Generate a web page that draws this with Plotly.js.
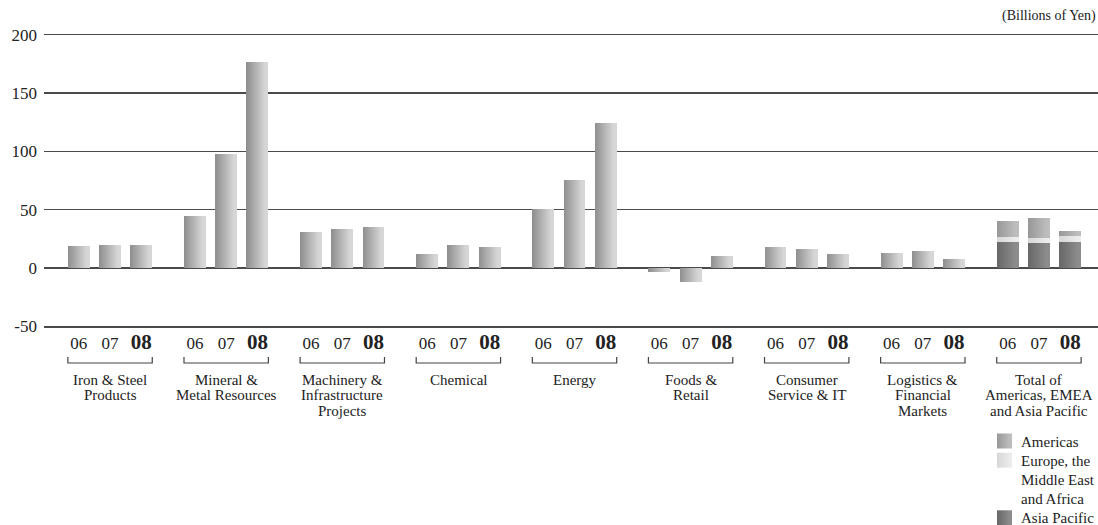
<!DOCTYPE html>
<html><head><meta charset="utf-8">
<script src="https://cdn.plot.ly/plotly-3.0.1.min.js"></script>
<style>html,body{margin:0;padding:0;background:#fff}</style>
</head><body>
<div id="chart" style="width:1098px;height:525px"></div>
<script>
// ---- data ----
const segmentLabels = [
  "Iron & Steel\nProducts",
  "Mineral &\nMetal Resources",
  "Machinery &\nInfrastructure\nProjects",
  "Chemical",
  "Energy",
  "Foods &\nRetail",
  "Consumer\nService & IT",
  "Logistics &\nFinancial\nMarkets",
  "Total of\nAmericas, EMEA\nand Asia Pacific"
];
const years = ["06", "07", "08"];
const ironSteel    = [19, 20, 20];
const mineralMetal = [44.5, 98, 177];
const machinery    = [30.5, 33.5, 35];
const chemical     = [12, 19.5, 18];
const energy       = [50.5, 75.5, 124];
const foodsRetail  = [-3.5, -12.5, 10.5];
const consumerIT   = [17.5, 16.5, 12];
const logistics    = [13, 14.5, 7.5];
const totalAmericas    = [13.5, 17, 4.5];
const totalEMEA        = [4, 4.5, 4.5];
const totalAsiaPacific = [22.5, 21.5, 22.5];
const seriesNames = ["Americas", "Europe, the\nMiddle East\nand Africa", "Asia Pacific"];
const unitLabel = "(Billions of Yen)";
const yTicks = [-50, 0, 50, 100, 150, 200];
const yTickText = ["-50", "0", "50", "100", "150", "200"];

// ---- styling / layout helpers ----
const segmentValues = [ironSteel, mineralMetal, machinery, chemical, energy, foodsRetail, consumerIT, logistics];
const seriesValues = [totalAmericas, totalEMEA, totalAsiaPacific];
const seriesColors = ["#a8a8a8", "#dedede", "#767676"];
const seriesGrad = [["#979797", "#bdbdbd"], ["#d6d6d6", "#ececec"], ["#676767", "#8c8c8c"]];
const mainGrad = ["#8e8e8e", "#d6d6d6"];
const GROUP_STEP = 3.715;
const pos = (g, i) => g * GROUP_STEP + i;
const FONT = "Liberation Serif, Times New Roman, serif";
const W = 1098, H = 525, ML = 44;
const PLOT_TOP = 35, PLOT_BOTTOM = 326, PLOT_H = PLOT_BOTTOM - PLOT_TOP, PLOT_W = W - ML;
const py = p => (PLOT_BOTTOM - p) / PLOT_H;
const px = p => (p - ML) / PLOT_W;

const mainX = [], mainY = [];
segmentValues.forEach((vals, g) => vals.forEach((v, i) => { mainX.push(pos(g, i)); mainY.push(v); }));
const totalG = segmentLabels.length - 1;
const totalX = years.map((y, i) => pos(totalG, i));

// stacked bottom-to-top: Asia Pacific, EMEA, Americas
const stackOrder = [2, 1, 0];
const traces = [
  {type: "bar", x: mainX, y: mainY, marker: {color: "#b0b0b0", line: {width: 0}}, showlegend: false, hoverinfo: "y"}
].concat(stackOrder.map(s => ({
  type: "bar", x: totalX, y: seriesValues[s], name: seriesNames[s].replace(/\n/g, " "),
  marker: {color: seriesColors[s], line: {width: 0}}, showlegend: false
})));
const traceGrads = [mainGrad].concat(stackOrder.map(s => seriesGrad[s]));

const tickvals = [], ticktext = [];
segmentLabels.forEach((s, g) => years.forEach((y, i) => {
  tickvals.push(pos(g, i));
  ticktext.push(i === 2 ? '<span style="font-size:21px"><b>' + y + '</b></span>' : y);
}));

const shapes = [], annotations = [];
segmentLabels.forEach((label, g) => {
  const x0 = pos(g, 0) - 0.35, x1 = pos(g, 2) + 0.35;
  const yt = py(357), yb = py(363);
  shapes.push({type: "path", xref: "x", yref: "paper",
    path: `M ${x0},${yt} L ${x0},${yb} L ${x1},${yb} L ${x1},${yt}`,
    line: {color: "#444", width: 1.2}});
  label.split("\n").forEach((line, k) => {
    annotations.push({xref: "x", yref: "paper", x: pos(g, 1), y: py(380 + 15.3 * k),
      text: line, showarrow: false, xanchor: "center", yanchor: "middle",
      font: {family: FONT, size: 15, color: "#222"}});
  });
});
annotations.push({xref: "paper", yref: "paper", x: 1, y: py(16), text: unitLabel, showarrow: false,
  xanchor: "right", yanchor: "middle", font: {family: FONT, size: 14, color: "#222"}});

// legend (drawn as key squares + text lines)
const legendShapeIdx = [];
let lineY = 441.5;
seriesNames.forEach((name, s) => {
  legendShapeIdx.push({idx: shapes.length, grad: seriesGrad[s]});
  shapes.push({type: "rect", xref: "paper", yref: "paper",
    x0: px(997), x1: px(1012), y0: py(lineY - 8), y1: py(lineY + 7),
    fillcolor: seriesColors[s], line: {width: 0}});
  name.split("\n").forEach(line => {
    annotations.push({xref: "paper", yref: "paper", x: px(1019), y: py(lineY), text: line,
      showarrow: false, xanchor: "left", yanchor: "middle",
      font: {family: FONT, size: 15, color: "#222"}});
    lineY += 19.2;
  });
});

const layout = {
  width: W, height: H,
  margin: {l: ML, r: 0, t: PLOT_TOP, b: H - PLOT_BOTTOM, pad: 0, autoexpand: false},
  paper_bgcolor: "#fff", plot_bgcolor: "#fff",
  font: {family: FONT, color: "#222"},
  barmode: "stack", bargap: 0.3, showlegend: false,
  xaxis: {range: [-1.114, 32.61], tickmode: "array", tickvals, ticktext, automargin: false,
    tickfont: {family: FONT, size: 17, color: "#222"}, ticks: "", ticklabelstandoff: 1,
    showgrid: false, zeroline: false, showline: true, mirror: true, linecolor: "#4a4a4a", linewidth: 1.5},
  yaxis: {range: [-50, 200], tickmode: "array", tickvals: yTicks, ticktext: yTickText, automargin: false,
    tickfont: {family: FONT, size: 17, color: "#222"}, ticks: "", ticklabelstandoff: 6,
    showgrid: true, gridcolor: "#4a4a4a", gridwidth: 1.5,
    zeroline: true, zerolinecolor: "#4a4a4a", zerolinewidth: 1.5, showline: false},
  shapes, annotations
};

function addGradient(svg, id, cols) {
  const ns = "http://www.w3.org/2000/svg";
  let defs = svg.querySelector("defs");
  if (!defs) { defs = document.createElementNS(ns, "defs"); svg.insertBefore(defs, svg.firstChild); }
  const lg = document.createElementNS(ns, "linearGradient");
  lg.setAttribute("id", id);
  lg.setAttribute("x1", "0"); lg.setAttribute("y1", "0"); lg.setAttribute("x2", "1"); lg.setAttribute("y2", "0");
  [[0, cols[0]], [0.85, cols[1]], [1, cols[1]]].forEach(([o, c]) => {
    const st = document.createElementNS(ns, "stop");
    st.setAttribute("offset", o); st.setAttribute("stop-color", c);
    lg.appendChild(st);
  });
  defs.appendChild(lg);
  return "url(#" + id + ")";
}

Plotly.newPlot("chart", traces, layout, {displayModeBar: false, staticPlot: true}).then(gd => {
  const svg = gd.querySelector(".main-svg");
  const traceEls = gd.querySelectorAll(".barlayer .trace");
  traceEls.forEach((t, k) => {
    const fill = addGradient(svg, "barGrad" + k, traceGrads[k]);
    t.querySelectorAll(".point path").forEach(p => { p.style.fill = fill; });
  });
  legendShapeIdx.forEach((e, k) => {
    const el = gd.querySelector('.shapelayer path[data-index="' + e.idx + '"]');
    if (el) el.style.fill = addGradient(el.ownerSVGElement, "keyGrad" + k, e.grad);
  });
});
</script>
</body></html>
